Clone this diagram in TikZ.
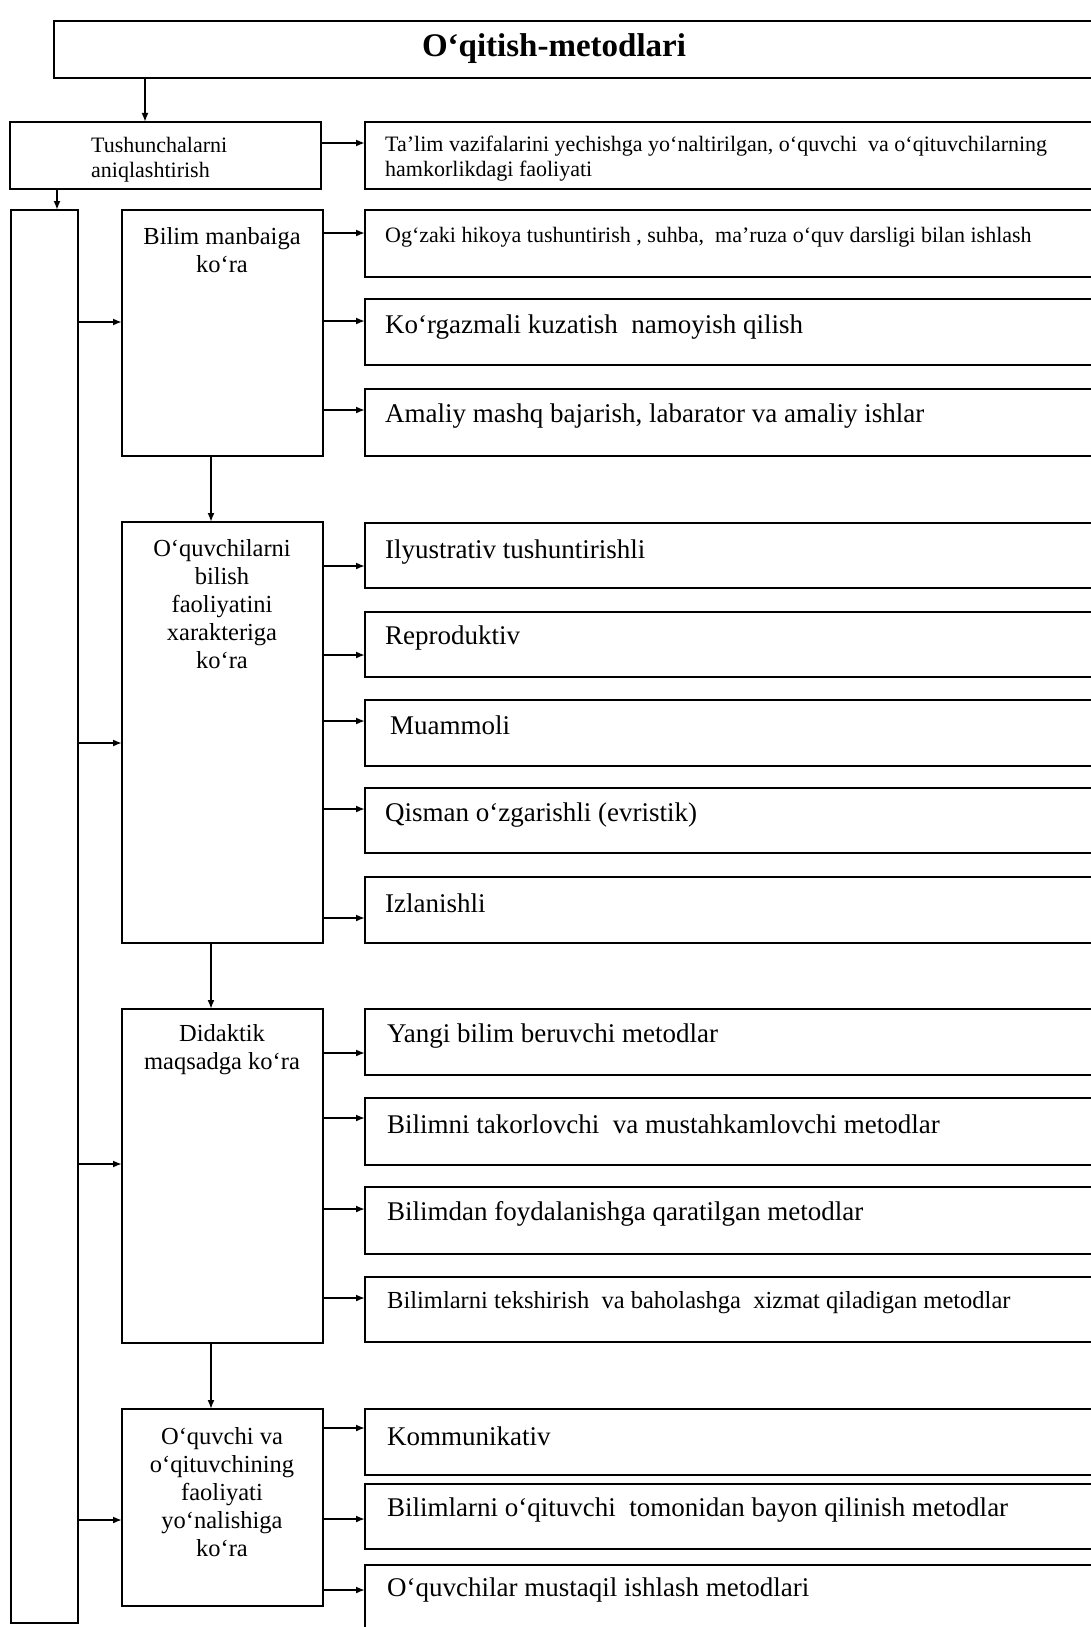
\documentclass[tikz,border=0pt]{standalone}
\usepackage{fontspec}
\setmainfont{Liberation Serif}
\usetikzlibrary{arrows.meta}
\newcommand\fsz[2]{\fontsize{#1pt}{#2pt}\selectfont}
\tikzset{
  box/.style={draw, line width=2pt, rectangle, inner sep=0pt, outer sep=0pt, anchor=north west},
  rbox/.style={box, minimum width=780pt},
  mbox/.style={box, minimum width=201pt},
  arr/.style={line width=2pt, -{Latex[length=9pt,width=7pt]}},
  rtext/.style={anchor=west, inner sep=0pt, font=\fsz{27}{31}},
  mtext/.style={anchor=center, inner sep=0pt, align=center, font=\fsz{24.5}{28}},
}
\begin{document}
\begin{tikzpicture}[x=1pt,y=-1pt]
\useasboundingbox (0,0) rectangle (1091,1627);
\clip (0,0) rectangle (1091,1627);
% title
\node[box, minimum width=1060pt, minimum height=57pt] (title) at (54,21) {};
\node[inner sep=0pt, font=\fsz{33}{38}\bfseries] (titletext) at (554,49) {O‘qitish-metodlari};
% top row
\node[box, minimum width=311pt, minimum height=67pt] (tush) at (10,122) {};
\node[inner sep=0pt, anchor=west, align=left, font=\fsz{22}{25}] (tushtext) at (91,160) {Tushunchalarni\\aniqlashtirish};
\node[rbox, minimum height=67pt] (r0) at (365,122) {};
\node[inner sep=0pt, anchor=west, align=left, font=\fsz{22}{25}] (t0) at (385,159) {Ta’lim vazifalarini yechishga yo‘naltirilgan, o‘quvchi \ va o‘qituvchilarning\\hamkorlikdagi faoliyati};
% left long box
\node[box, minimum width=67pt, minimum height=1413pt] (lbox) at (11,210) {};
% middle boxes
\node[mbox, minimum height=246pt] (m1) at (122,210) {};
\node[mtext] (m1t) at (222,250.5) {Bilim manbaiga\\ko‘ra};
\node[mbox, minimum height=421pt] (m2) at (122,522) {};
\node[mtext] (m2t) at (222,604) {O‘quvchilarni\\bilish\\faoliyatini\\xarakteriga\\ko‘ra};
\node[mbox, minimum height=334pt] (m3) at (122,1009) {};
\node[mtext] (m3t) at (222,1049.5) {Didaktik\\maqsadga ko‘ra};
\node[mbox, minimum height=197pt] (m4) at (122,1409) {};
\node[mtext] (m4t) at (222,1492) {O‘quvchi va\\o‘qituvchining\\faoliyati\\yo‘nalishiga\\ko‘ra};
% right boxes
\node[rbox, minimum height=67pt] (r1) at (365,210) {};
\node[rbox, minimum height=66pt] (r2) at (365,299) {};
\node[rbox, minimum height=67pt] (r3) at (365,389) {};
\node[rbox, minimum height=65pt] (r4) at (365,523) {};
\node[rbox, minimum height=65pt] (r5) at (365,612) {};
\node[rbox, minimum height=66pt] (r6) at (365,700) {};
\node[rbox, minimum height=65pt] (r7) at (365,788) {};
\node[rbox, minimum height=66pt] (r8) at (365,877) {};
\node[rbox, minimum height=66pt] (r9) at (365,1009) {};
\node[rbox, minimum height=67pt] (r10) at (365,1098) {};
\node[rbox, minimum height=67pt] (r11) at (365,1187) {};
\node[rbox, minimum height=65pt] (r12) at (365,1277) {};
\node[rbox, minimum height=66pt] (r13) at (365,1409) {};
\node[rbox, minimum height=65pt] (r14) at (365,1484) {};
\node[rbox, minimum height=90pt] (r15) at (365,1565) {};
% right texts
\node[rtext, font=\fsz{22}{25}] (t1) at (385,237) {Og‘zaki hikoya tushuntirish , suhba, \ ma’ruza o‘quv darsligi bilan ishlash};
\node[rtext] (t2) at (385,327) {Ko‘rgazmali kuzatish \ namoyish qilish};
\node[rtext] (t3) at (385,416) {Amaliy mashq bajarish, labarator va amaliy ishlar};
\node[rtext] (t4) at (385,552) {Ilyustrativ tushuntirishli};
\node[rtext] (t5) at (385,638) {Reproduktiv};
\node[rtext] (t6) at (390,725) {Muammoli};
\node[rtext] (t7) at (385,815) {Qisman o‘zgarishli (evristik)};
\node[rtext] (t8) at (385,903) {Izlanishli};
\node[rtext] (t9) at (387,1036) {Yangi bilim beruvchi metodlar};
\node[rtext] (t10) at (387,1124) {Bilimni takorlovchi \ va mustahkamlovchi metodlar};
\node[rtext] (t11) at (387,1214) {Bilimdan foydalanishga qaratilgan metodlar};
\node[rtext, font=\fsz{24.5}{28}] (t12) at (387,1303) {Bilimlarni tekshirish \ va baholashga \ xizmat qiladigan metodlar};
\node[rtext] (t13) at (387,1436) {Kommunikativ};
\node[rtext] (t14) at (387,1510) {Bilimlarni o‘qituvchi \ tomonidan bayon qilinish metodlar};
\node[rtext] (t15) at (387,1590) {O‘quvchilar mustaqil ishlash metodlari};
% vertical arrows
\draw[arr] ([xshift=91pt]title.south west) coordinate (c0) -- (c0 |- tush.north);
\draw[arr] ([xshift=47pt]tush.south west) coordinate (c1) -- (c1 |- lbox.north);
\draw[arr] ([xshift=89pt]m1.south west) coordinate (c2) -- (c2 |- m2.north);
\draw[arr] ([xshift=89pt]m2.south west) coordinate (c3) -- (c3 |- m3.north);
\draw[arr] ([xshift=89pt]m3.south west) coordinate (c4) -- (c4 |- m4.north);
% top horizontal arrow
\draw[arr] (tush.east |- r0.north) ++(0,21) coordinate (a0) -- (a0 -| r0.west);
% left box to middle boxes
\draw[arr] (lbox.east |- m1.north) ++(0,112) coordinate (l1) -- (l1 -| m1.west);
\draw[arr] (lbox.east |- m2.north) ++(0,221) coordinate (l2) -- (l2 -| m2.west);
\draw[arr] (lbox.east |- m3.north) ++(0,155) coordinate (l3) -- (l3 -| m3.west);
\draw[arr] (lbox.east |- m4.north) ++(0,111) coordinate (l4) -- (l4 -| m4.west);
% middle to right
\draw[arr] (m1.east |- r1.north) ++(0,23) coordinate (b1) -- (b1 -| r1.west);
\draw[arr] (m1.east |- r2.north) ++(0,22) coordinate (b2) -- (b2 -| r2.west);
\draw[arr] (m1.east |- r3.north) ++(0,21) coordinate (b3) -- (b3 -| r3.west);
\draw[arr] (m2.east |- r4.north) ++(0,43) coordinate (b4) -- (b4 -| r4.west);
\draw[arr] (m2.east |- r5.north) ++(0,43) coordinate (b5) -- (b5 -| r5.west);
\draw[arr] (m2.east |- r6.north) ++(0,21) coordinate (b6) -- (b6 -| r6.west);
\draw[arr] (m2.east |- r7.north) ++(0,21) coordinate (b7) -- (b7 -| r7.west);
\draw[arr] (m2.east |- r8.north) ++(0,41) coordinate (b8) -- (b8 -| r8.west);
\draw[arr] (m3.east |- r9.north) ++(0,44) coordinate (b9) -- (b9 -| r9.west);
\draw[arr] (m3.east |- r10.north) ++(0,20) coordinate (b10) -- (b10 -| r10.west);
\draw[arr] (m3.east |- r11.north) ++(0,22) coordinate (b11) -- (b11 -| r11.west);
\draw[arr] (m3.east |- r12.north) ++(0,21) coordinate (b12) -- (b12 -| r12.west);
\draw[arr] (m4.east |- r13.north) ++(0,19) coordinate (b13) -- (b13 -| r13.west);
\draw[arr] (m4.east |- r14.north) ++(0,35) coordinate (b14) -- (b14 -| r14.west);
\draw[arr] (m4.east |- r15.north) ++(0,25) coordinate (b15) -- (b15 -| r15.west);
\end{tikzpicture}
\end{document}
